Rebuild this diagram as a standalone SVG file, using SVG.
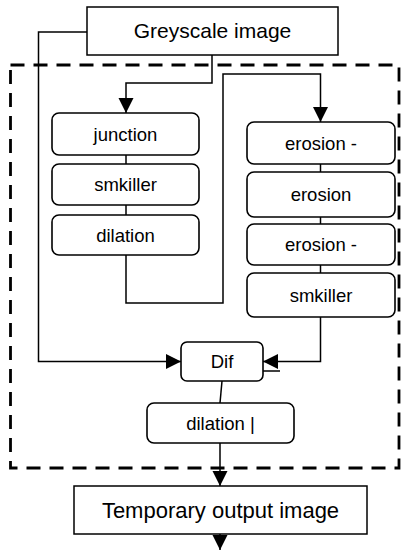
<svg xmlns="http://www.w3.org/2000/svg" width="404" height="550" viewBox="0 0 404 550">
  <style>
    .box { fill: #ffffff; stroke: #000000; stroke-width: 1.5; }
    .step { fill: #ffffff; stroke: #000000; stroke-width: 1.6; }
    .frame { fill: none; stroke: #000000; stroke-width: 2.8; stroke-dasharray: 14 9; }
    .wire { fill: none; stroke: #000000; stroke-width: 1.5; }
    .big { font-family: "Liberation Sans", Arial, sans-serif; font-size: 21px; text-anchor: middle; fill: #000000; }
    .small { font-family: "Liberation Sans", Arial, sans-serif; font-size: 18.5px; text-anchor: middle; fill: #000000; }
  </style>
  <defs>
    <marker id="arrow" markerUnits="userSpaceOnUse" markerWidth="16" markerHeight="16" refX="15" refY="7.5" orient="auto">
      <path d="M0,0 L15,7.5 L0,15 z" fill="#000000"/>
    </marker>
  </defs>

  <rect class="frame" x="10.5" y="65" width="388.5" height="403"/>

  <g id="connectors">
    <path class="wire" d="M87,32 H38.5 V361.5 H181" marker-end="url(#arrow)"/>
    <path class="wire" d="M212,55 V83 H126 V113" marker-end="url(#arrow)"/>
    <path class="wire" d="M126,155 V164"/>
    <path class="wire" d="M126,205 V215"/>
    <path class="wire" d="M126,255 V303 H223 V74 H320.5 V122" marker-end="url(#arrow)"/>
    <path class="wire" d="M320.5,164 V172"/>
    <path class="wire" d="M320.5,217 V224"/>
    <path class="wire" d="M320.5,265 V273"/>
    <path class="wire" d="M320.5,317 V361.5 H263" marker-end="url(#arrow)"/>
    <path class="wire" d="M258,371 H280"/>
    <path class="wire" d="M222,381 L220,403"/>
    <path class="wire" d="M220,443 V486" marker-end="url(#arrow)"/>
    <path class="wire" d="M220,534 V550" marker-end="url(#arrow)"/>
  </g>

  <g id="greyscale-image">
    <rect class="box" x="87" y="7" width="251" height="48"/>
    <text class="big" x="212.5" y="38">Greyscale image</text>
  </g>

  <g id="junction">
    <rect class="step" x="52" y="113" width="147" height="42" rx="7"/>
    <text class="small" x="125.5" y="140.5">junction</text>
  </g>
  <g id="smkiller-left">
    <rect class="step" x="52" y="164" width="147" height="41" rx="7"/>
    <text class="small" x="125.5" y="191">smkiller</text>
  </g>
  <g id="dilation">
    <rect class="step" x="52" y="215" width="147" height="40" rx="7"/>
    <text class="small" x="125.5" y="241.5">dilation</text>
  </g>

  <g id="erosion-minus-1">
    <rect class="step" x="247" y="122" width="148" height="42" rx="7"/>
    <text class="small" x="321" y="149.5">erosion -</text>
  </g>
  <g id="erosion">
    <rect class="step" x="247" y="172" width="148" height="45" rx="7"/>
    <text class="small" x="321" y="201">erosion</text>
  </g>
  <g id="erosion-minus-2">
    <rect class="step" x="247" y="224" width="148" height="41" rx="7"/>
    <text class="small" x="321" y="251">erosion -</text>
  </g>
  <g id="smkiller-right">
    <rect class="step" x="247" y="273" width="148" height="44" rx="7"/>
    <text class="small" x="321" y="301.5">smkiller</text>
  </g>

  <g id="dif">
    <rect class="step" x="181" y="342" width="82" height="39" rx="6"/>
    <text class="small" x="222" y="368">Dif</text>
  </g>

  <g id="dilation-bar">
    <rect class="step" x="147" y="403" width="147" height="40" rx="7"/>
    <text class="small" x="220.5" y="429.5">dilation |</text>
  </g>

  <g id="temporary-output-image">
    <rect class="box" x="74" y="486" width="293" height="48"/>
    <text class="big" x="220.5" y="517.5" style="font-size:22px">Temporary output image</text>
  </g>
</svg>
